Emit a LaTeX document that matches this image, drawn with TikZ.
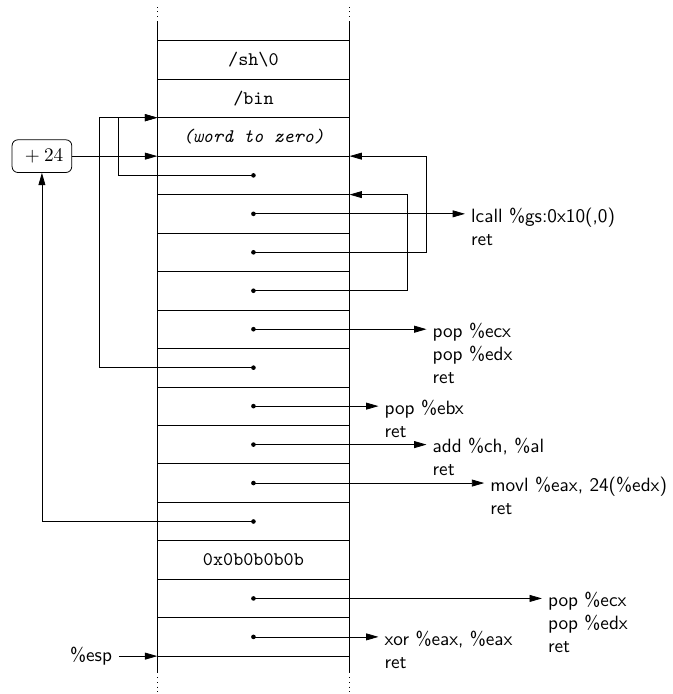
\documentclass[tikz,border=0pt]{standalone}
\usetikzlibrary{positioning}
\usetikzlibrary{arrows.meta}

\begin{document}
\begin{tikzpicture}[cell/.style={draw, minimum width=100pt, minimum height=20pt, inner sep=0pt, outer sep=0pt, font=\ttfamily},
                    ptr/.style={-{Triangle[length=6.4pt,width=3.6pt]}},
                    gadget/.style={anchor=north west, align=left, inner sep=0pt, yshift=3.4pt, xshift=3pt, font=\sffamily, execute at begin node=\strut},
                    addbox/.style={draw, rounded corners=3pt, minimum width=31pt, minimum height=17pt}]
%\draw [help lines] (-4,-12) grid (8,1);
\useasboundingbox (-131.8pt,21.2pt) rectangle (218.1pt,-339.7pt);

% Stack
\node[cell, anchor=north]   (c0) at (0,0) {/sh\textbackslash0};
\node[cell, below=0pt of c0] (c1) {/bin};
\node[cell, below=0pt of c1] (c2) {\textit{(word to zero)}};
\foreach \i [count=\j from 2] in {3,...,12}
  \node[cell, below=0pt of c\j] (c\i) {};
\node[cell, below=0pt of c12] (c13) {0x0b0b0b0b};
\node[cell, below=0pt of c13] (c14) {};
\node[cell, below=0pt of c14] (c15) {};

% Open ends of the stack
\draw (c0.north west) -- ++(0,10.4pt)  (c0.north east) -- ++(0,10.4pt);
\draw (c15.south west) -- ++(0,-8.6pt) (c15.south east) -- ++(0,-8.6pt);
\draw[dotted] ([yshift=12.5pt]c0.north west) -- ++(0,5pt)  ([yshift=12.5pt]c0.north east) -- ++(0,5pt);
\draw[dotted] ([yshift=-11.1pt]c15.south west) -- ++(0,-7.8pt) ([yshift=-11.1pt]c15.south east) -- ++(0,-7.8pt);

\foreach \i in {3,...,12,14,15}
  \fill (c\i.center) circle (1.2pt);

% Gadgets
\draw[ptr] (c4.center)  -- ([xshift=60pt]c4.east)  node[gadget] {lcall \%gs:0x10(,0)\\ret};
\draw[ptr] (c7.center)  -- ([xshift=40pt]c7.east)  node[gadget] {pop \%ecx\\pop \%edx\\ret};
\draw[ptr] (c9.center)  -- ([xshift=15pt]c9.east)  node[gadget] {pop \%ebx\\ret};
\draw[ptr] (c10.center) -- ([xshift=40pt]c10.east) node[gadget] {add \%ch, \%al\\ret};
\draw[ptr] (c11.center) -- ([xshift=70pt]c11.east) node[gadget] {movl \%eax, 24(\%edx)\\ret};
\draw[ptr] (c14.center) -- ([xshift=100pt]c14.east) node[gadget] {pop \%ecx\\pop \%edx\\ret};
\draw[ptr] (c15.center) -- ([xshift=15pt]c15.east) node[gadget] {xor \%eax, \%eax\\ret};

% Pointers back into the stack
\draw[ptr] (c3.center) -| ([xshift=-20pt]c2.north west) -- (c2.north west);
\draw[ptr] (c8.center) -| ([xshift=-30pt]c2.north west) -- (c2.north west);
\draw[ptr] (c5.center) -| ([xshift=40pt]c3.north east) -- (c3.north east);
\draw[ptr] (c6.center) -| ([xshift=30pt]c4.north east) -- (c4.north east);

\node[addbox] (add) at ([xshift=-60pt]c3.north west) {${}+24$};
\draw[ptr] (add) -- (c3.north west);
\draw[ptr] (c12.center) -| (add);

\node[font=\sffamily, left=20pt of c15.south west] (esp) {\%esp};
\draw[ptr] (esp) -- (c15.south west);

\end{tikzpicture}
\end{document}
